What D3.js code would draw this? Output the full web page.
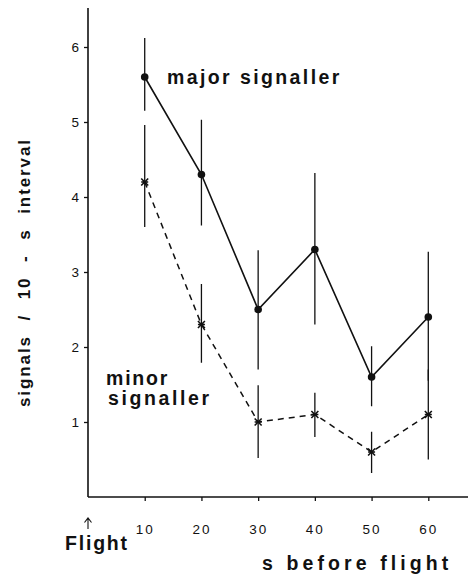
<!DOCTYPE html>
<html><head><meta charset="utf-8">
<script src="https://cdn.jsdelivr.net/npm/d3@7"></script>
<style>body{margin:0;background:#fff}svg{display:block}text{font-family:"Liberation Sans",Arial,sans-serif;fill:#111}</style>
</head><body>
<script>
const seconds = [10, 20, 30, 40, 50, 60];
const majorMean = [5.6, 4.3, 2.5, 3.3, 1.6, 2.4];
const majorLow  = [5.15, 3.62, 1.7, 2.3, 1.21, 1.55];
const majorHigh = [6.12, 5.03, 3.29, 4.32, 2.01, 3.27];
const minorMean = [4.2, 2.3, 1.0, 1.1, 0.6, 1.1];
const minorLow  = [3.6, 1.79, 0.52, 0.8, 0.32, 0.5];
const minorHigh = [4.96, 2.84, 1.49, 1.39, 0.87, 1.7];
const yTicks = [1, 2, 3, 4, 5, 6];
const xTicks = [10, 20, 30, 40, 50, 60];

const W = 469, H = 578;
const svg = d3.select("body").append("svg").attr("width", W).attr("height", H);
const x = d3.scaleLinear().domain([0, 67]).range([88, 468]);
const y = d3.scaleLinear().domain([0, 6.52]).range([497, 8]);
const ink = "#111";
const FF = "'Liberation Sans',Arial,sans-serif";

// axes
const ya = svg.append("g").attr("transform", "translate(88,0)")
  .call(d3.axisLeft(y).tickValues(yTicks).tickSize(4).tickPadding(5).tickFormat(d3.format("d")));
ya.select(".domain").attr("d", `M0,${y(6.52)}V${y(0)}`).attr("stroke", ink).attr("stroke-width", 1.6);
ya.selectAll(".tick line").attr("stroke", ink).attr("stroke-width", 1.3);
ya.selectAll(".tick text").attr("font-size", 13.5).attr("fill", ink).style("font-family", FF);

const xa = svg.append("g").attr("transform", "translate(0,497)")
  .call(d3.axisBottom(x).tickValues(xTicks).tickSize(4).tickFormat(d3.format("d")));
xa.select(".domain").attr("d", `M${x(0)},0H${x(67)}`).attr("stroke", ink).attr("stroke-width", 1.6);
xa.selectAll(".tick line").attr("stroke", ink).attr("stroke-width", 1.3);
xa.selectAll(".tick text").attr("y", 37).attr("dy", 0).attr("font-size", 13.5).attr("fill", ink)
  .attr("letter-spacing", 2).style("font-family", FF);

// error bars
function bars(lo, hi) {
  svg.append("g").selectAll("line").data(seconds).join("line")
    .attr("x1", d => x(d)).attr("x2", d => x(d))
    .attr("y1", (d, i) => y(lo[i])).attr("y2", (d, i) => y(hi[i]))
    .attr("stroke", ink).attr("stroke-width", 1.3);
}
bars(majorLow, majorHigh);
bars(minorLow, minorHigh);

// lines
const line = d3.line().x(d => x(d[0])).y(d => y(d[1]));
svg.append("path").datum(seconds.map((s, i) => [s, majorMean[i]])).attr("d", line)
  .attr("fill", "none").attr("stroke", ink).attr("stroke-width", 1.6);
svg.append("path").datum(seconds.map((s, i) => [s, minorMean[i]])).attr("d", line)
  .attr("fill", "none").attr("stroke", ink).attr("stroke-width", 1.5).attr("stroke-dasharray", "6,5");

// markers
svg.append("g").selectAll("circle").data(seconds).join("circle")
  .attr("cx", d => x(d)).attr("cy", (d, i) => y(majorMean[i])).attr("r", 3.8).attr("fill", ink);
svg.append("g").selectAll("path").data(seconds).join("path")
  .attr("d", (d, i) => {
    const cx = x(d), cy = y(minorMean[i]), s = 3.5;
    return `M${cx - s},${cy - s}L${cx + s},${cy + s}M${cx - s},${cy + s}L${cx + s},${cy - s}M${cx - s},${cy}H${cx + s}`;
  })
  .attr("stroke", ink).attr("stroke-width", 1.6).attr("fill", "none");

// labels
function label(txt, tx, ty, size, ls, ws, rot) {
  const t = svg.append("text").text(txt).attr("font-size", size).attr("font-weight", "bold")
    .attr("letter-spacing", ls).attr("word-spacing", ws || 0);
  if (rot) t.attr("transform", `translate(${tx},${ty}) rotate(-90)`);
  else t.attr("x", tx).attr("y", ty);
  return t;
}
label("major signaller", 167, 84, 19.5, 2.4);
label("minor", 106, 385, 19.5, 1.8);
label("signaller", 108, 405, 19.5, 2.6);
label("Flight", 65, 550, 19.5, 1.8);
label("s before flight", 262, 570, 19.5, 4.1);
label("signals / 10 - s interval", 30, 407, 17, 1.9, 8, true);

// flight arrow
const ax = x(0);
svg.append("path").attr("d", `M${ax},529V518M${ax - 3.5},522.5L${ax},518L${ax + 3.5},522.5`)
  .attr("stroke", ink).attr("stroke-width", 1.1).attr("fill", "none");
</script>
</body></html>
